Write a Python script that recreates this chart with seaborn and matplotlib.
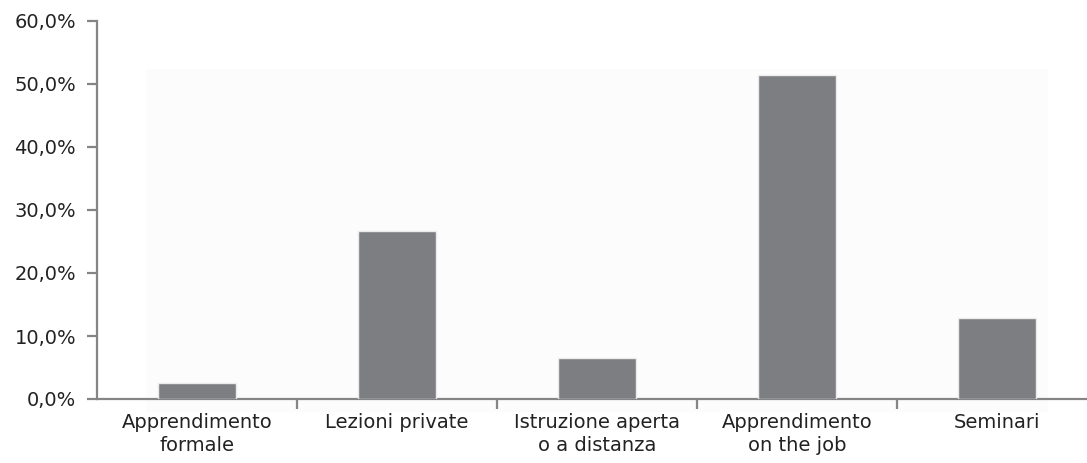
import matplotlib
matplotlib.use("Agg")
import matplotlib.pyplot as plt
from matplotlib.patches import Rectangle
from matplotlib.ticker import FuncFormatter
import seaborn as sns
import pandas as pd

categorie = [
    "Apprendimento\nformale",
    "Lezioni private",
    "Istruzione aperta\no a distanza",
    "Apprendimento\non the job",
    "Seminari",
]
percentuali = [2.5, 26.6, 6.5, 51.4, 12.8]
tick_y = [0, 10, 20, 30, 40, 50, 60]

df = pd.DataFrame({"categoria": categorie, "percentuale": percentuali})

sns.set_theme(style="white")
plt.rcParams["font.family"] = ["DejaVu Sans"]

fig = plt.figure(figsize=(10.87, 4.63), dpi=100)
fig.patch.set_facecolor("white")

# faint plot-area panel behind the bars
fig.patches.append(Rectangle((146 / 1087, 1 - 412 / 463), (1048 - 146) / 1087, (412 - 69) / 463,
                             transform=fig.transFigure, facecolor="#fcfcfc",
                             edgecolor="none", zorder=-5))

ax = fig.add_axes([97 / 1087, 1 - 399 / 463, 1000 / 1087, (399 - 21) / 463])
ax.set_facecolor("none")
ax.set_zorder(2)

sns.barplot(data=df, x="categoria", y="percentuale", color="#7d7e82",
            saturation=1, width=0.39, ax=ax, zorder=3)
for p in ax.patches:
    p.set_edgecolor("#ececec")
    p.set_linewidth(1.0)

ax.set_xlim(-0.5, 4.5)
ax.set_ylim(0, 60)
ax.set_yticks(tick_y)
ax.yaxis.set_major_formatter(FuncFormatter(lambda v, _: f"{v:.1f}%".replace(".", ",")))

spine_col = "#858585"
for side in ("top", "right"):
    ax.spines[side].set_visible(False)
for side in ("left", "bottom"):
    ax.spines[side].set_color(spine_col)
    ax.spines[side].set_linewidth(1.6)

ax.tick_params(axis="y", which="major", length=7, width=1.6, color=spine_col,
               direction="out", left=True, pad=8, labelsize=14, labelcolor="#222222")
ax.set_xticks(range(len(categorie)))
ax.set_xticklabels(categorie, fontsize=14, color="#222222", linespacing=1.3)
ax.set_xticks([i + 0.5 for i in range(len(categorie) - 1)], minor=True)
ax.tick_params(axis="x", which="major", length=0, pad=10)
ax.tick_params(axis="x", which="minor", length=7, width=1.6, color=spine_col,
               direction="out", bottom=True)

ax.set_xlabel("")
ax.set_ylabel("")

fig.savefig("out.png", dpi=100, facecolor="white")
